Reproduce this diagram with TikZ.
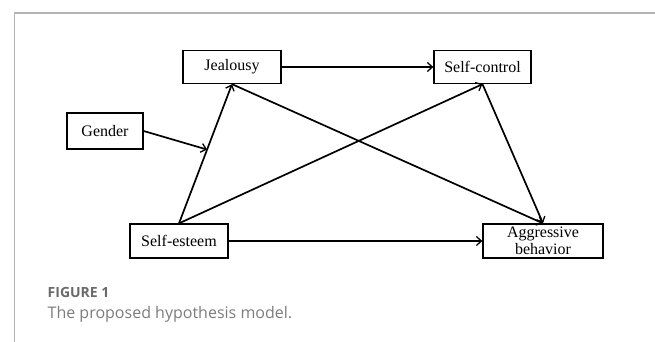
\documentclass[tikz,border=0pt]{standalone}
\usepackage{fontspec}
\setmainfont{Liberation Serif}
\newfontfamily\capfont{Open Sans}
\usetikzlibrary{arrows.meta,calc}
\definecolor{framegray}{HTML}{B4B4B4}
\definecolor{figgray}{HTML}{6A6A6A}
\definecolor{capgray}{HTML}{7C7C7C}
\tikzset{
  varbox/.style={draw, line width=1.3pt, inner sep=0pt, font=\fontsize{16}{17.5}\selectfont, align=center},
  link/.style={line width=1.7pt, -{Straight Barb[length=5pt,width=9pt,line width=1.3pt]}},
}
\begin{document}
\begin{tikzpicture}[x=1pt,y=-1pt]
\useasboundingbox (0,0) rectangle (655,342);
% frame
\draw[framegray, line width=1.2pt] (14.5,342) -- (14.5,13) -- (655,13);
% nodes
\node[varbox, minimum width=98pt, minimum height=33pt] (j) at (232,67) {Jealousy};
\node[varbox, minimum width=97pt, minimum height=33pt] (sc) at (482.5,67) {Self-control};
\node[varbox, minimum width=76pt, minimum height=36pt] (g) at (105,131) {Gender};
\node[varbox, minimum width=98pt, minimum height=34pt] (se) at (179,241) {Self-esteem};
\node[varbox, minimum width=120pt, minimum height=34pt] (ab) at (543,241) {Aggressive\\behavior};
% connectors
\coordinate (m) at ($(se.north)!0.53!(j.south)$);
\draw[link] (j.east) -- (sc.west);
\draw[link] (se.north) -- (j.south);
\draw[link] (se.north) -- (sc.south);
\draw[link] (j.south) -- (ab.north);
\draw[link] (sc.south) -- (ab.north);
\draw[link] (se.east) -- (ab.west);
\draw[link] (g.east) -- (m);
% caption
\node[anchor=base west, inner sep=0pt, text=figgray, font=\capfont\bfseries\fontsize{14}{16}\selectfont] (fig) at (47.5,297) {FIGURE 1};
\node[anchor=base west, inner sep=0pt, text=capgray, font=\capfont\fontsize{16}{19}\selectfont] (cap) at (47.5,318) {The proposed hypothesis model.};
\end{tikzpicture}
\end{document}
